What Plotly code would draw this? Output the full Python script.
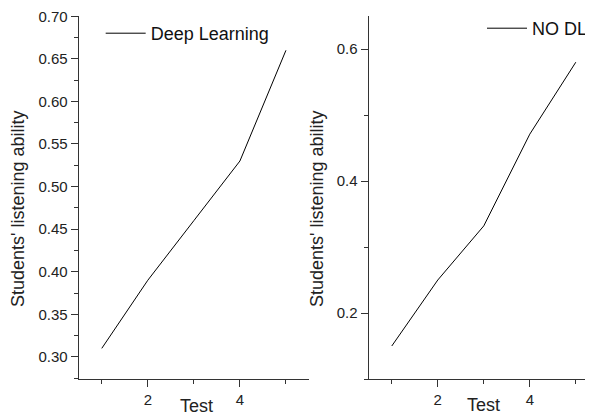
import plotly.graph_objects as go

tests = [1, 2, 3, 4, 5]
deep_learning = [0.31, 0.39, 0.46, 0.53, 0.66]
no_dl = [0.15, 0.25, 0.332, 0.471, 0.58]
left_ticks = [0.30, 0.35, 0.40, 0.45, 0.50, 0.55, 0.60, 0.65, 0.70]
right_ticks = [0.2, 0.4, 0.6]

# page body has an 8px margin: figure is drawn at (8, 8) in the window
OFF = 8
W, H = 593 - OFF, 416 - OFF
FONT = "Liberation Sans, Arial, sans-serif"

fig = go.Figure()
fig.add_trace(go.Scatter(x=tests, y=deep_learning, mode="lines", name="Deep Learning",
                         line=dict(color="black", width=1), xaxis="x", yaxis="y", legend="legend"))
fig.add_trace(go.Scatter(x=tests, y=no_dl, mode="lines", name="NO DL",
                         line=dict(color="black", width=1), xaxis="x2", yaxis="y2", legend="legend2"))

def px(v):
    return (v - OFF) / W

def py(v):
    return (H - (v - OFF)) / H

ydom = [py(379), py(16)]
axis_common = dict(showgrid=False, zeroline=False, showline=True, linecolor="#333", linewidth=1.3,
                   ticks="outside", tickcolor="#333", tickwidth=1.2, ticklen=7,
                   tickfont=dict(family=FONT, size=15, color="#222"), automargin=False,
                   ticklabeloverflow="allow")

fig.update_layout(
    width=W, height=H, margin=dict(l=0, r=0, t=0, b=0),
    plot_bgcolor="white", paper_bgcolor="white",
    font=dict(family=FONT, color="#222"),
    xaxis=dict(domain=[px(79), px(310)], range=[0.5, 5.5], anchor="y", tickvals=[2, 4],
               minor=dict(tickvals=[1, 3, 5], ticks="outside", ticklen=4, tickcolor="#333"), **axis_common),
    yaxis=dict(domain=ydom, range=[0.274, 0.7003], anchor="x", tickvals=left_ticks,
               ticktext=[f"{v:.2f}" for v in left_ticks],
               minor=dict(dtick=0.025, tick0=0, ticks="outside", ticklen=4, tickcolor="#333"), **axis_common),
    xaxis2=dict(domain=[px(370), 1.0], range=[0.5, 5.33], anchor="y2", tickvals=[2, 4],
                minor=dict(tickvals=[1, 3, 5], ticks="outside", ticklen=4, tickcolor="#333"), **axis_common),
    yaxis2=dict(domain=ydom, range=[0.10, 0.65], anchor="x2", tickvals=right_ticks,
                ticktext=[f"{v:.1f}" for v in right_ticks],
                minor=dict(tickvals=[0.1, 0.3, 0.5], ticks="outside", ticklen=4, tickcolor="#333"), **axis_common),
    legend=dict(x=px(101), y=py(15), xanchor="left", yanchor="top", bgcolor="rgba(0,0,0,0)",
                font=dict(family=FONT, size=18, color="#111"), itemwidth=40),
    legend2=dict(x=px(484), y=py(10), xanchor="left", yanchor="top", bgcolor="rgba(0,0,0,0)",
                 font=dict(family=FONT, size=18, color="#111"), itemwidth=40),
    showlegend=True,
)

ann_font = dict(family=FONT, size=18, color="#222")
fig.add_annotation(text="Students' listening ability", xref="paper", yref="paper", x=px(18), y=py(208),
                   textangle=-90, showarrow=False, font=ann_font, xanchor="center", yanchor="middle")
fig.add_annotation(text="Students' listening ability", xref="paper", yref="paper", x=px(318), y=py(208),
                   textangle=-90, showarrow=False, font=ann_font, xanchor="center", yanchor="middle")
fig.add_annotation(text="Test", xref="paper", yref="paper", x=px(197), y=py(406),
                   showarrow=False, font=ann_font, xanchor="center", yanchor="middle")
fig.add_annotation(text="Test", xref="paper", yref="paper", x=px(485), y=py(405),
                   showarrow=False, font=ann_font, xanchor="center", yanchor="middle")

fig.write_html("out.html")
